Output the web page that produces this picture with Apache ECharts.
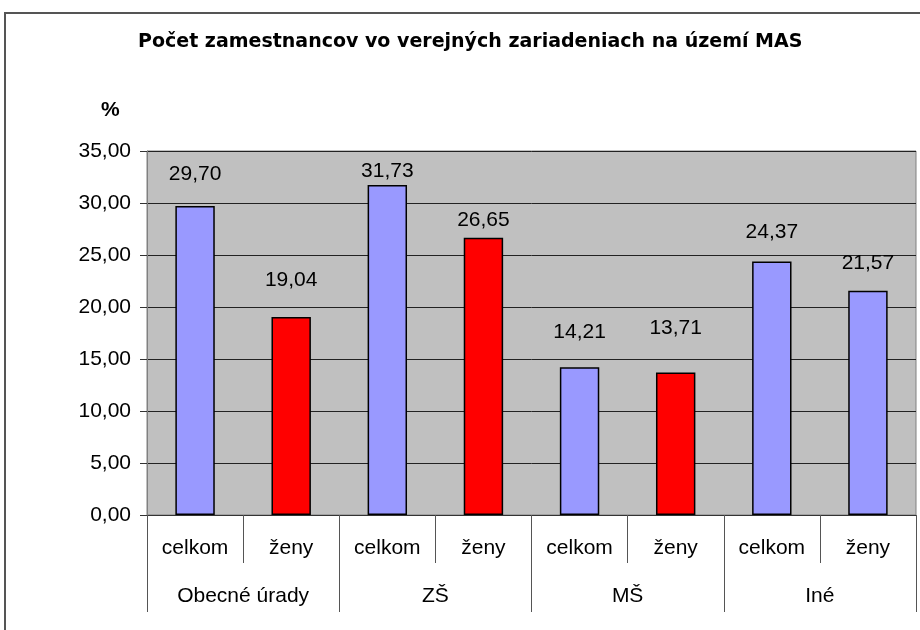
<!DOCTYPE html>
<html>
<head>
<meta charset="utf-8">
<script src="https://cdn.jsdelivr.net/npm/echarts@6/dist/echarts.min.js"></script>
<style>
	html, body { margin: 0; padding: 0; background: #fff; }
	#frame {
		position: absolute; left: 4px; top: 12px; width: 1000px; height: 1000px;
		border-left: 2px solid #555; border-top: 2px solid #555;
	}
	#chart { position: absolute; left: 0; top: 0; width: 920px; height: 630px; }
</style>
</head>
<body>
<div id="frame"></div>
<div id="chart"></div>
<script>
	// data
	var groups = ['Obecné úrady', 'ZŠ', 'MŠ', 'Iné'];
	var subLabels = ['celkom', 'ženy', 'celkom', 'ženy', 'celkom', 'ženy', 'celkom', 'ženy'];
	var values = [29.70, 19.04, 31.73, 26.65, 14.21, 13.71, 24.37, 21.57];
	var yTicks = { min: 0, max: 35, interval: 5 };

	// styles (per bar, as in the original workbook)
	var barColors = ['#9999ff', '#ff0000', '#9999ff', '#ff0000', '#9999ff', '#ff0000', '#9999ff', '#9999ff'];
	var labelGaps = [21, 26, 3, 7, 25, 34, 19, 17];

	var font = '"Liberation Sans", Arial, sans-serif';
	var titleFont = '"DejaVu Sans", "Liberation Sans", Arial, sans-serif';
	var fmt = function (v) { return Number(v).toFixed(2).replace('.', ','); };

	var barData = values.map(function (v, i) {
		return {
			value: v,
			itemStyle: { color: barColors[i] },
			label: { distance: labelGaps[i] }
		};
	});

	var chart = echarts.init(document.getElementById('chart'));
	var option = {
		animation: false,
		textStyle: { fontFamily: font },
		title: {
			text: 'Počet zamestnancov vo verejných zariadeniach na území MAS',
			left: 133,
			top: 28,
			textStyle: { fontFamily: titleFont, fontSize: 19, fontWeight: 'bold', color: '#000' }
		},
		graphic: [{
			type: 'text',
			left: 101,
			top: 100,
			style: { text: '%', font: 'bold 21px ' + font, fill: '#000' }
		}],
		grid: {
			left: 147, top: 151, right: 4, bottom: 115,
			show: true,
			backgroundColor: '#c0c0c0',
			borderColor: '#808080',
			borderWidth: 1
		},
		xAxis: [{
			type: 'category',
			data: subLabels,
			position: 'bottom',
			axisLine: { show: true, lineStyle: { color: '#333', width: 1 } },
			axisTick: { show: true, interval: 0, length: 48, lineStyle: { color: '#555' } },
			axisLabel: { interval: 0, margin: 23, fontSize: 21, color: '#000', fontFamily: font },
			splitLine: { show: false }
		}, {
			type: 'category',
			data: groups,
			position: 'bottom',
			axisLine: { show: false },
			axisTick: { show: true, interval: 0, length: 97, lineStyle: { color: '#555' } },
			axisLabel: { interval: 0, margin: 71, fontSize: 21, color: '#000', fontFamily: font },
			splitLine: { show: false }
		}],
		yAxis: {
			type: 'value',
			min: yTicks.min,
			max: yTicks.max,
			interval: yTicks.interval,
			axisLine: { show: true, lineStyle: { color: '#808080' } },
			axisTick: { show: true, length: 7, lineStyle: { color: '#333' } },
			axisLabel: { margin: 16, fontSize: 21, color: '#000', fontFamily: font, formatter: fmt },
			splitLine: { show: true, lineStyle: { color: '#222', width: 1 } }
		},
		series: [{
			type: 'bar',
			xAxisIndex: 0,
			data: barData,
			barWidth: '41%',
			itemStyle: {
				borderColor: '#000',
				borderWidth: 1.5
			},
			label: {
				show: true,
				position: 'top',
				fontSize: 21,
				color: '#000',
				fontFamily: font,
				formatter: function (p) { return fmt(p.value); }
			}
		}]
	};
	chart.setOption(option);
</script>
</body>
</html>
